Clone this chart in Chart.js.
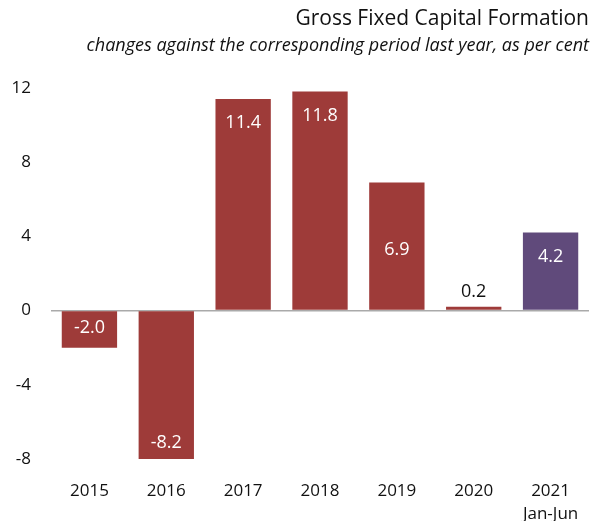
<!DOCTYPE html>
<html>
<head>
<meta charset="utf-8">
<script src="https://cdn.jsdelivr.net/npm/chart.js@4/dist/chart.umd.min.js"></script>
<style>
  body { margin: 0; background: #fff; }
</style>
</head>
<body>
<canvas id="chart1" width="603" height="521"></canvas>
<script>
// data
const years = [['2015'], ['2016'], ['2017'], ['2018'], ['2019'], ['2020'], ['2021', 'Jan-Jun']]
const growth = [-2.0, -8.2, 11.4, 11.8, 6.9, 0.2, 4.2]
const yTicks = [-8, -4, 0, 4, 8, 12]

const red = '#9e3b39'
const purple = '#604a7b'
const fontFam = "'Open Sans', sans-serif"

const canvas = document.getElementById("chart1")
const context = canvas.getContext("2d")

// value labels inside the bars
const barLabels = {
  id: 'barLabels',
  afterDatasetsDraw(chart) {
    const ctx = chart.ctx
    const meta = chart.getDatasetMeta(0)
    ctx.save()
    ctx.font = "18px " + fontFam
    ctx.textAlign = 'center'
    ctx.textBaseline = 'middle'
    meta.data.forEach((bar, i) => {
      const v = growth[i]
      const h = Math.abs(bar.y - bar.base)
      let y
      if (h < 30) {
        ctx.fillStyle = '#111'
        y = bar.y - 15
      } else {
        ctx.fillStyle = '#fff'
        if (i == 4) y = (bar.y + bar.base) / 2 + 4
        else y = v >= 0 ? bar.y + 24 : bar.y - 20
      }
      ctx.fillText(v.toFixed(1), bar.x, y)
    })
    ctx.restore()
  }
}

const config = {
  type: 'bar',
  data: {
    labels: years,
    datasets: [{
      data: growth,
      backgroundColor: growth.map((v, i) => i == growth.length - 1 ? purple : red),
      categoryPercentage: 1,
      barPercentage: 0.72
    }]
  },
  options: {
    responsive: false,
    animation: false,
    layout: { padding: { left: 0, right: 14, top: 0, bottom: 0 } },
    plugins: {
      legend: { display: false },
      tooltip: { enabled: false },
      title: {
        display: true,
        text: 'Gross Fixed Capital Formation',
        align: 'end',
        color: '#111',
        font: { family: fontFam, size: 21, weight: 'normal' },
        padding: { top: 6, bottom: 4 }
      },
      subtitle: {
        display: true,
        text: 'changes against the corresponding period last year, as per cent',
        align: 'end',
        color: '#111',
        font: { family: fontFam, size: 18, style: 'italic' },
        padding: { bottom: 31 }
      }
    },
    scales: {
      y: {
        min: -8,
        max: 12,
        afterBuildTicks: axis => { axis.ticks = yTicks.map(v => ({ value: v })) },
        afterFit: scale => { scale.width = 51 },
        border: { display: false },
        grid: {
          drawTicks: false,
          lineWidth: 1.5,
          color: c => c.tick && c.tick.value === 0 ? '#aaaaaa' : 'rgba(0,0,0,0)'
        },
        ticks: {
          color: '#111',
          padding: 20,
          font: { family: fontFam, size: 17 }
        }
      },
      x: {
        afterFit: scale => { scale.height = 62 },
        border: { display: false },
        grid: { display: false },
        ticks: {
          color: '#111',
          padding: 13,
          font: { family: fontFam, size: 17, lineHeight: 1.35 }
        }
      }
    }
  },
  plugins: [barLabels]
}

const myChart = new Chart(context, config)
</script>
</body>
</html>
